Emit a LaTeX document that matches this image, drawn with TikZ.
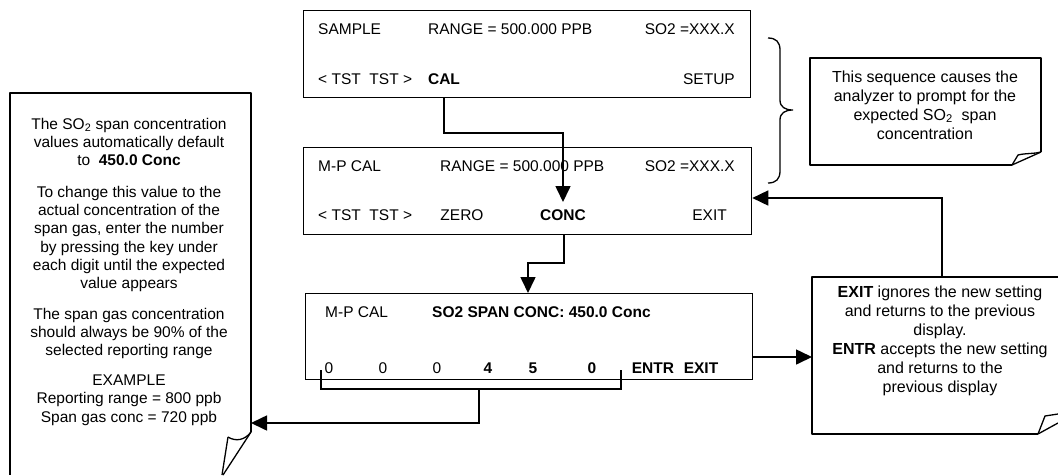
\documentclass[tikz,border=0pt]{standalone}
\usepackage{fontspec}
\setmainfont{Liberation Sans}
\usetikzlibrary{arrows.meta,calc}
\begin{document}
\begin{tikzpicture}[x=1pt,y=-1pt,
  dbox/.style={draw,line width=1.3pt,minimum width=#1,inner sep=0,anchor=north west},
  dtxt/.style={font=\fontsize{15.5}{18}\selectfont,inner sep=0},
  dtxtb/.style={font=\fontsize{15.5}{18}\selectfont\bfseries,inner sep=0},
  ltxt/.style={font=\fontsize{15.5}{18.3}\selectfont,inner sep=0,align=center},
  rtxt/.style={font=\fontsize{16}{19}\selectfont,inner sep=0,align=center},
  conn/.style={line width=1.6pt},
  arr/.style={line width=1.6pt,-{Triangle[width=15pt,length=16pt]}},
  noteline/.style={line width=1.3pt,line join=round}]
\useasboundingbox (0,0) rectangle (1058,475);
\fill[white] (0,0) rectangle (1058,475);

% ---------- display boxes ----------
\node[dbox=447pt,minimum height=87pt] (top) at (303,10) {};
\node[dbox=448pt,minimum height=87pt] (mid) at (303,147) {};
\node[dbox=447pt,minimum height=86pt] (bot) at (305,293) {};

% top display
\node[dtxt,anchor=base west] (t1) at (318,34.5) {SAMPLE};
\node[dtxt,anchor=base west] (t2) at (428,34.5) {RANGE = 500.000 PPB};
\node[dtxt,anchor=base east] (t3) at (735,34.5) {SO2 =XXX.X};
\node[dtxt,anchor=base west] (t4) at (318,84.5) {< TST\ \ TST >};
\node[dtxtb,anchor=base] (cal) at (444,84.5) {CAL};
\node[dtxt,anchor=base east] (t6) at (735,84.5) {SETUP};

% middle display
\node[dtxt,anchor=base west] (m1) at (318,171.5) {M-P CAL};
\node[dtxt,anchor=base west] (m2) at (440,171.5) {RANGE = 500.000 PPB};
\node[dtxt,anchor=base east] (m3) at (735,171.5) {SO2 =XXX.X};
\node[dtxt,anchor=base west] (m4) at (318,220.5) {< TST\ \ TST >};
\node[dtxt,anchor=base] (zero) at (462,220.5) {ZERO};
\node[dtxtb,anchor=base] (conc) at (563,220.5) {CONC};
\node[dtxt,anchor=base east] (mexit) at (727,220.5) {EXIT};

% bottom display
\node[dtxt,anchor=base west] (b1) at (325,317.5) {M-P CAL};
\node[dtxtb,anchor=base west] (b2) at (432,317.5) {SO2 SPAN CONC: 450.0 Conc};
\node[dtxt,anchor=base] (d1) at (329,373.5) {0};
\node[dtxt,anchor=base] (d2) at (383,373.5) {0};
\node[dtxt,anchor=base] (d3) at (437,373.5) {0};
\node[dtxtb,anchor=base] (d4) at (488,373.5) {4};
\node[dtxtb,anchor=base] (d5) at (533,373.5) {5};
\node[dtxtb,anchor=base] (d6) at (592,373.5) {0};
\node[dtxtb,anchor=base] (entr) at (653,373.5) {ENTR};
\node[dtxtb,anchor=base] (bexit) at (701,373.5) {EXIT};

% ---------- left note ----------
\draw[noteline] (251,432) -- (251,93) -- (10,93) -- (10,475);
\draw[noteline] (251,432) -- (223,475);
\draw[noteline] (228,437) -- (222,475);
\draw[noteline] (228,437) .. controls (236,442) and (245,440) .. (251,432);
\coordinate (leftin) at (251,423);
\node[ltxt] (l1) at (129,142) {The SO\textsubscript{2} span concentration\\values automatically default\\to\ \ \textbf{450.0 Conc}};
\node[ltxt] (l2) at (129,239) {To change this value to the\\actual concentration of the\\span gas, enter the number\\by pressing the key under\\each digit until the expected\\value appears};
\node[ltxt] (l3) at (129,333.5) {The span gas concentration\\should always be 90\% of the\\selected reporting range};
\node[ltxt] (l4) at (129,400) {EXAMPLE\\Reporting range = 800 ppb\\Span gas conc = 720 ppb};

% ---------- right note 1 ----------
\draw[noteline] (1041,152) -- (1041,58) -- (810,58) -- (810,165) -- (1012,165);
\draw[noteline] (1012,165) -- (1041,152);
\draw[noteline] (1012,165) -- (1018,155) .. controls (1026,153) and (1034,154) .. (1041,152);
\node[rtxt] (r1) at (925,105) {This sequence causes the\\analyzer to prompt for the\\expected SO\textsubscript{2}\ \ span\\concentration};

% brace
\draw[line width=1.3pt] (768,38) .. controls (776,38) and (780,42) .. (780,50) -- (780,100)
  .. controls (780,107) and (785,110) .. (793,110)
  .. controls (785,110) and (780,113) .. (780,120) -- (780,171)
  .. controls (780,179) and (776,183) .. (768,183);

% ---------- exit note ----------
\draw[noteline] (1058,277) -- (812,277) -- (812,434) -- (1038,434);
\draw[noteline] (1038,434) -- (1045,416) -- (1058,414);
\draw[noteline] (1038,434) -- (1058,423);
\coordinate (exitin) at (812,357);
\coordinate (exittop) at (942,277);
\node[rtxt] (r2) at (940,341) {\textbf{EXIT} ignores the new setting\\and returns to the previous\\display.\\\textbf{ENTR} accepts the new setting\\and returns to the\\previous display};

% ---------- connectors ----------
\coordinate (j1) at (444,133);
\coordinate (tip1) at (563,202);
\draw[arr] (j1 |- top.south) -- (j1) -| (tip1);

\coordinate (j2) at (564,263);
\coordinate (tip2) at (528,293);
\draw[arr] (j2 |- mid.south) -- (j2) -| (tip2);

\coordinate (bl) at (321,370);
\coordinate (br) at (621,370);
\coordinate (bm) at (479,389);
\draw[conn] (bl) |- (br |- bm) -- (br);
\draw[arr] (bm) |- (leftin);

\draw[arr] (bot.east |- exitin) -- (exitin);
\draw[arr] (exittop) |- (mid.east |- 0,198);
\end{tikzpicture}
\end{document}
